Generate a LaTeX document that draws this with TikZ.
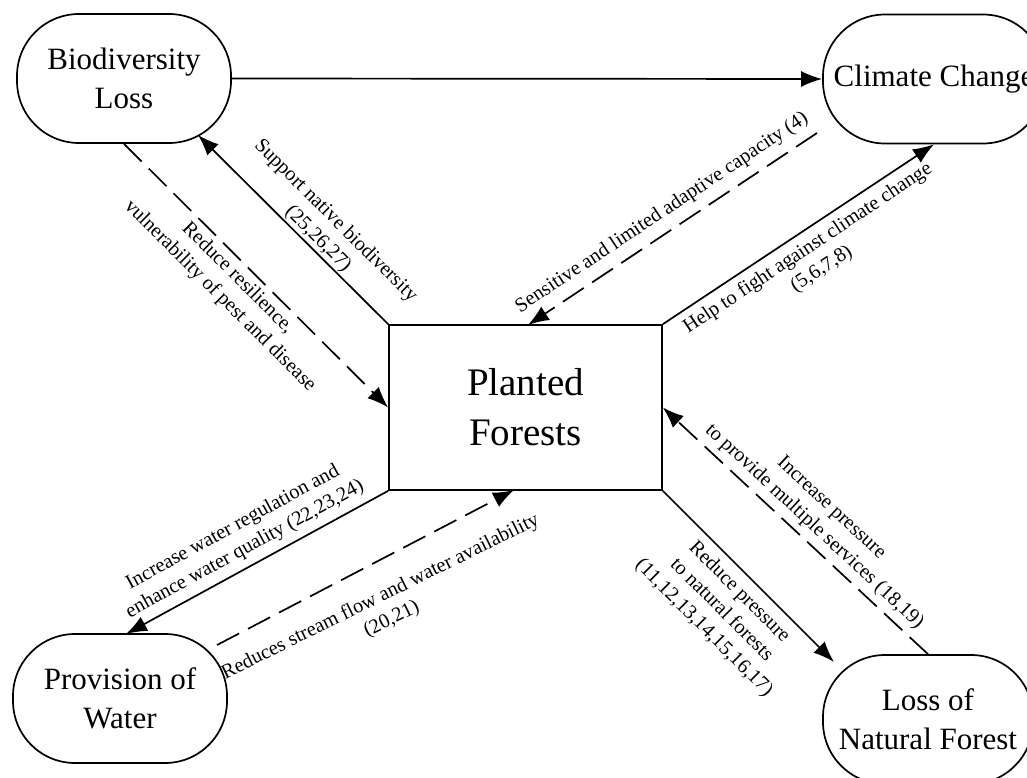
\documentclass[tikz,border=0pt]{standalone}
\usepackage{fontspec}
\setmainfont{Liberation Serif}
\usetikzlibrary{arrows.meta}
\begin{document}
\begin{tikzpicture}[x=1pt,y=-1pt,
  pill/.style={draw, line width=1.7pt, rounded corners=62pt, minimum height=129pt, inner sep=0pt, align=center, font=\fontsize{31}{39}\selectfont},
  core/.style={draw, line width=1.7pt, minimum width=273pt, minimum height=165pt, inner sep=0pt, align=center, font=\fontsize{39}{50}\selectfont},
  link/.style={line width=1.7pt, -{Latex[length=21pt,width=16pt]}},
  dlink/.style={link, dash pattern=on 25pt off 10pt},
  lbl/.style={sloped, align=center, inner sep=1pt, font=\fontsize{20.3}{25}\selectfont},
]
\useasboundingbox (0,0) rectangle (1027,778);
\fill[white] (0,0) rectangle (1027,778);

\node[pill, minimum width=214pt] (bio) at (124,78.5) {Biodiversity\\Loss};
\node[pill, minimum width=222pt] (cc) at (934,79) {Climate Change};
\node[pill, minimum width=214pt] (pow) at (120,698.5) {Provision of\\Water};
\node[pill, minimum width=210pt] (lnf) at (928,719.5) {Loss of\\Natural Forest};
\node[core] (pf) at (525.5,407.5) {Planted\\Forests};

\coordinate (bT) at (198,135);
\coordinate (ccS) at (817,133);
\coordinate (pfN) at (528,325);
\coordinate (powN) at (126,634);
\coordinate (powE) at (217,645);
\coordinate (pfS) at (514,490);
\coordinate (lnfT) at (834,662);

\draw[link] (bio.east) -- (cc.west);
\draw[link] (pf.north west) -- node[lbl, pos=0.41, above=0pt] {Support native biodiversity\\(25,26,27)} (bT);
\draw[dlink] (bio.south) -- node[lbl, pos=0.47, below=4pt] {Reduce resilience,\\vulnerability of pest and disease} (pf.west);
\draw[link] (pf.north east) -- node[lbl, pos=0.5, below=6pt] {Help to fight against climate change\\(5,6,7,8)} (cc.south);
\draw[dlink] (ccS) -- node[lbl, pos=0.5, above=8pt] {Sensitive and limited adaptive capacity (4)} (pfN);
\draw[link] (pf.south west) -- node[lbl, pos=0.515, above=6pt] {Increase water regulation and\\enhance water quality (22,23,24)} (powN);
\draw[dlink] (powE) -- node[lbl, pos=0.5, below=22pt, rotate=-1.3] {Reduces stream flow and water availability\\(20,21)} (pfS);
\draw[link] (pf.south east) -- node[lbl, pos=0.52, below=7pt] {Reduce pressure\\to natural forests\\(11,12,13,14,15,16,17)} (lnfT);
\draw[dlink] (lnf.north) -- node[lbl, pos=0.47, above=5pt] {Increase pressure\\to provide multiple services (18,19)} (pf.east);
\end{tikzpicture}
\end{document}
